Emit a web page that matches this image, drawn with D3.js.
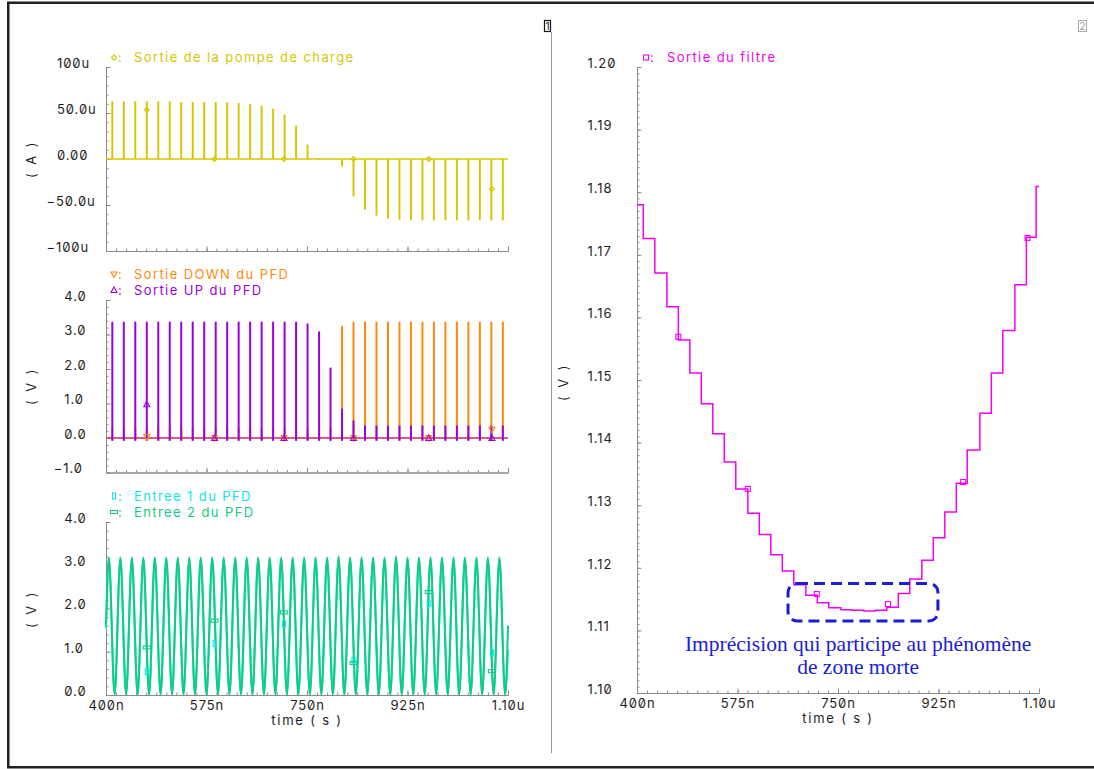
<!DOCTYPE html>
<html><head><meta charset="utf-8">
<script src="https://cdn.jsdelivr.net/npm/d3@7"></script>
<style>
body{margin:0;background:#fff}
svg text{font-family:Inter,"DejaVu Sans",sans-serif;font-feature-settings:"zero" 1}
</style></head><body><svg id="c" width="1094" height="769"></svg>
<script>
// ---------------- DATA ----------------
const xTickValues = [400, 575, 750, 925, 1100];
const xTickLabels = ["400n", "575n", "750n", "925n", "1.10u"];

// Panel 1 : charge pump output current (uA), one spike per PFD cycle
const pulseTimes = [411,431,451,471,491,511,531,551,571,591,611,631,651,671,691,711,731,751,771,791,811,831,851,871,891,911,931,951,971,991,1011,1031,1051,1071,1091];
const cpPeaks = [62.7,62.7,62.7,62.7,62.7,62.7,62.0,62.0,62.0,62.0,61.6,60.9,59.8,58.0,54.7,48.2,36.2,15.6,1.1,0,-8.0,-40.6,-55.1,-61.6,-64.9,-66.0,-66.7,-66.7,-66.7,-66.7,-66.7,-66.7,-66.7,-66.7,-66.7];
const cpMarkT = [471, 589, 710, 831, 962, 1072];
const cpMarkV = [53.5, 0, 0, 0, 0, -32.6];
const y1TickValues = [100, 50, 0, -50, -100];
const y1TickLabels = ["100u", "50.0u", "0.00", "-50.0u", "-100u"];

// Panel 2 : PFD outputs (V)
const upPeaks = [3.37,3.37,3.37,3.37,3.37,3.37,3.37,3.37,3.37,3.37,3.37,3.37,3.37,3.37,3.37,3.37,3.37,3.32,3.09,2.04,0.85,0.51,0.36,0.36,0.36,0.36,0.36,0.36,0.36,0.36,0.36,0.36,0.36,0.36,0.36];
const downPeaks = [0.3,0.3,0.3,0.3,0.3,0.3,0.3,0.3,0.3,0.3,0.3,0.3,0.3,0.3,0.3,0.3,0.3,0.3,0.3,0.3,3.24,3.37,3.37,3.37,3.37,3.37,3.37,3.37,3.37,3.37,3.37,3.37,3.37,3.37,3.37];
const upMarkV = [0.98, 0, 0, 0, 0, 0];
const downMarkV = [0.03, 0, 0, 0, 0, 0.24];
const y2TickValues = [4, 3, 2, 1, 0, -1];
const y2TickLabels = ["4.0", "3.0", "2.0", "1.0", "0.0", "-1.0"];

// Panel 3 : PFD inputs (V), extrema of each waveform
const inTimes = [400,405,415,425,435,445,455,465,475,485,495,505,515,525,535,545,555,565,575,585,595,605,615,625,635,645,655,665,675,685,695,705,715,725,735,745,755,765,775,785,795,805,815,825,835,845,855,865,875,885,895,905,915,925,935,945,955,965,975,985,995,1005,1015,1025,1035,1045,1055,1065,1075,1085,1095,1100];
const in1Values = [1.55,3.15,0.03,3.15,0.03,3.15,0.03,3.15,0.03,3.15,0.03,3.15,0.03,3.15,0.03,3.15,0.03,3.15,0.03,3.15,0.03,3.15,0.03,3.15,0.03,3.15,0.03,3.15,0.03,3.15,0.03,3.15,0.03,3.15,0.03,3.15,0.03,3.15,0.03,3.15,0.03,3.15,0.03,3.15,0.03,3.15,0.03,3.15,0.03,3.15,0.03,3.15,0.03,3.15,0.03,3.15,0.03,3.15,0.03,3.15,0.03,3.15,0.03,3.15,0.03,3.15,0.03,3.15,0.03,3.15,0.03,1.05];
const in2Values = [1.6,3.18,0,3.18,0,3.18,0,3.18,0,3.18,0,3.18,0,3.18,0,3.18,0,3.18,0,3.18,0,3.18,0,3.18,0,3.18,0,3.18,0,3.18,0,3.18,0,3.18,0,3.18,0,3.18,0,3.18,0,3.2,0,3.18,0,3.18,0,3.18,0,3.18,0,3.2,0,3.18,0,3.18,0,3.18,0,3.18,0,3.18,0,3.18,0,3.18,0,3.18,0,3.18,0,1.6];
const in1MarkV = [0.54, 1.19, 1.64, 0.8, 2.11, 0.98];
const in2MarkV = [1.1, 1.72, 1.91, 0.74, 2.38, 0.55];
const y3TickValues = [4, 3, 2, 1, 0];
const y3TickLabels = ["4.0", "3.0", "2.0", "1.0", "0.0"];

// Right panel : loop filter output (V), staircase
const filterStart = 1.1780;
const stepTimes = [411,431,452,472,492,512,532,552,572,593,613,633,653,673,694,714,734,755,775,795,815,835,855,875,896,916,936,956,975,997,1017,1037,1058,1078,1095];
const stepLevels = [1.1726,1.1671,1.1617,1.1564,1.1511,1.1462,1.1414,1.1369,1.1326,1.1287,1.1253,1.1221,1.1195,1.1173,1.1156,1.1144,1.1136,1.1133,1.1132,1.1131,1.1132,1.1137,1.1159,1.1182,1.1212,1.1248,1.1289,1.1335,1.1388,1.1447,1.1511,1.1579,1.1652,1.1728,1.1809];
const filterMarkT = [472, 593, 713, 837, 968, 1080];
const filterMarkV = [1.1569, 1.1326, 1.1158, 1.1142, 1.1337, 1.1727];
const yRTickValues = [1.20,1.19,1.18,1.17,1.16,1.15,1.14,1.13,1.12,1.11,1.10];
const yRTickLabels = ["1.20","1.19","1.18","1.17","1.16","1.15","1.14","1.13","1.12","1.11","1.10"];

// Annotation (dead zone)
const boxT = [663, 924];
const boxV = [1.1175, 1.1115];
const noteT = 785;
const noteLines = ["Imprécision qui participe au phénomène", "de zone morte"];
const noteV = [1.1067, 1.1030];

// ---------------- DRAW ----------------
const C = {yellow:"#d6c800", orange:"#ff8a0a", purple:"#9a00e0", cyan:"#10e6e6", green:"#12cc82", magenta:"#f400f4", axis:"#8a8a8a", text:"#1e1e1e", blue:"#1c1cd6"};
const FS = 13;
const svg = d3.select("#c");

// frame
svg.append("rect").attr("x",8.25).attr("y",2.75).attr("width",1200).attr("height",764.5)
  .attr("fill","none").attr("stroke","#231f20").attr("stroke-width",2.5);
svg.append("line").attr("x1",551.5).attr("x2",551.5).attr("y1",32).attr("y2",753).attr("stroke","#9a9a9a").attr("stroke-width",1);
// window boxes
svg.append("rect").attr("x",544.5).attr("y",20.5).attr("width",6).attr("height",11).attr("fill","#fff").attr("stroke","#111").attr("stroke-width",1.2);
svg.append("text").attr("x",547.5).attr("y",30).attr("text-anchor","middle").attr("font-size",10).attr("fill","#111").text("1");
svg.append("rect").attr("x",1078.5).attr("y",20.5).attr("width",8).attr("height",11).attr("fill","#fff").attr("stroke","#aaa").attr("stroke-width",1);
svg.append("text").attr("x",1082.5).attr("y",30).attr("text-anchor","middle").attr("font-size",10).attr("fill","#999").text("2");

const xL = d3.scaleLinear().domain([400,1100]).range([106,508]);
const xR = d3.scaleLinear().domain([400,1100]).range([637,1039]);
const y1 = d3.scaleLinear().domain([-100,100]).range([251,67]);
const y2 = d3.scaleLinear().domain([-1,4]).range([472.5,300]);
const y3 = d3.scaleLinear().domain([0,4]).range([695,522]);
const yR = d3.scaleLinear().domain([1.10,1.20]).range([693,67]);

const xMinor = d3.range(0,41).map(i => 400 + i*17.5);

function styleAxis(g){
  g.selectAll(".domain").attr("stroke",C.axis).attr("stroke-width",1);
  g.selectAll(".tick line").attr("stroke",C.axis).attr("stroke-width",1);
}
function axes(x, y, yMajor, yMinor, yLabels, labelX, minusW, showX){
  const x0 = x.range()[0], yb = y.range()[0];
  const gy = svg.append("g").attr("transform",`translate(${x0},0)`);
  gy.append("g").call(d3.axisRight(y).tickValues(yMinor).tickSize(2.5).tickSizeOuter(0).tickFormat("")).call(styleAxis);
  gy.append("g").call(d3.axisRight(y).tickValues(yMajor).tickSize(4.5).tickSizeOuter(0).tickFormat("")).call(styleAxis);
  const gx = svg.append("g").attr("transform",`translate(0,${yb})`);
  gx.append("g").call(d3.axisTop(x).tickValues(xMinor).tickSize(2.5).tickSizeOuter(0).tickFormat("")).call(styleAxis);
  gx.append("g").call(d3.axisTop(x).tickValues(xTickValues).tickSize(4.5).tickSizeOuter(0).tickFormat("")).call(styleAxis);
  const gl = svg.append("g").attr("transform",`translate(${labelX},0)`)
    .call(d3.axisLeft(y).tickValues(yMajor).tickSize(0).tickFormat((d,i)=>yLabels[i].replace("-","\u2212")));
  gl.select(".domain").remove();
  gl.attr("font-family",null).attr("font-size",null);
  gl.selectAll("text").attr("text-anchor","start").attr("dy","0.02em")
    .attr("x",(d,i)=> yLabels[i].startsWith("-") ? -minusW : 0)
    .attr("font-size",FS).attr("letter-spacing","0.9px").attr("fill",C.text);
  if(showX){
    const gxl = svg.append("g").attr("transform",`translate(0,${yb})`)
      .call(d3.axisBottom(x).tickValues(xTickValues).tickSize(0).tickFormat((d,i)=>xTickLabels[i]));
    gxl.select(".domain").remove();
    gxl.attr("font-family",null).attr("font-size",null);
    gxl.selectAll("text").attr("y",15).attr("dy",0).attr("font-size",FS).attr("letter-spacing","0.9px").attr("fill",C.text);
    svg.append("text").attr("x",(x.range()[0]+x.range()[1])/2).attr("y",yb+30)
      .attr("text-anchor","middle").attr("font-size",FS).attr("letter-spacing","1.8px").attr("fill",C.text).text("time ( s )");
  }
}
function yTitle(x, yc, txt){
  svg.append("text").attr("transform",`translate(${x},${yc}) rotate(-90)`).attr("text-anchor","middle")
    .attr("dy","0.35em").attr("font-size",FS).attr("letter-spacing","2.4px").attr("fill",C.text).text(txt);
}
function marker(g, type, cx, cy, color){
  if(type==="diamond") g.append("path").attr("d",`M${cx},${cy-2.5}L${cx+2.5},${cy}L${cx},${cy+2.5}L${cx-2.5},${cy}Z`).attr("fill","none").attr("stroke",color).attr("stroke-width",1.1);
  if(type==="up") g.append("path").attr("d",`M${cx},${cy-3}L${cx+3},${cy+2.5}L${cx-3},${cy+2.5}Z`).attr("fill","none").attr("stroke",color).attr("stroke-width",1.1);
  if(type==="down") g.append("path").attr("d",`M${cx-3},${cy-2.5}L${cx+3},${cy-2.5}L${cx},${cy+3}Z`).attr("fill","none").attr("stroke",color).attr("stroke-width",1.1);
  if(type==="vrect") g.append("rect").attr("x",cx-1.5).attr("y",cy-3).attr("width",3).attr("height",6).attr("fill","none").attr("stroke",color).attr("stroke-width",1.1);
  if(type==="hrect") g.append("rect").attr("x",cx-3.5).attr("y",cy-1.5).attr("width",7).attr("height",3).attr("fill","none").attr("stroke",color).attr("stroke-width",1.1);
  if(type==="square") g.append("rect").attr("x",cx-2.5).attr("y",cy-2.5).attr("width",5).attr("height",5).attr("fill","none").attr("stroke",color).attr("stroke-width",1.1);
}
function legend(mx, tx, y, type, color, label){
  marker(svg, type, mx, y-4.5, color);
  svg.append("text").attr("x",mx+4).attr("y",y).attr("font-size",FS).attr("fill",color).text(":");
  svg.append("text").attr("x",tx).attr("y",y).attr("font-size",FS).attr("letter-spacing","1.4px").attr("fill",color).text(label);
}

// ---- Panel 1
axes(xL, y1, y1TickValues, d3.range(-100,101,10), y1TickLabels, 57, 10.5, false);
yTitle(31, 159, "( A )");
legend(114, 134, 62, "diamond", C.yellow, "Sortie de la pompe de charge");
const g1 = svg.append("g");
g1.append("line").attr("x1",xL(400)).attr("x2",xL(1100)).attr("y1",y1(0)).attr("y2",y1(0)).attr("stroke",C.yellow).attr("stroke-width",1.5);
g1.selectAll("line.p").data(pulseTimes).join("line").attr("class","p")
  .attr("x1",d=>xL(d)).attr("x2",d=>xL(d)).attr("y1",y1(0)).attr("y2",(d,i)=>y1(cpPeaks[i]))
  .attr("stroke",C.yellow).attr("stroke-width",2);
cpMarkT.forEach((t,i)=>marker(g1,"diamond",xL(t),y1(cpMarkV[i]),C.yellow));

// ---- Panel 2
axes(xL, y2, y2TickValues, d3.range(-1,4.01,0.2), y2TickLabels, 64.3, 10.5, false);
yTitle(31, 386, "( V )");
legend(114, 134, 279, "down", C.orange, "Sortie DOWN du PFD");
legend(114, 134, 294.5, "up", C.purple, "Sortie UP du PFD");
const g2 = svg.append("g");
g2.append("line").attr("x1",xL(400)).attr("x2",xL(1100)).attr("y1",y2(0)).attr("y2",y2(0)).attr("stroke",C.orange).attr("stroke-width",1.5);
g2.selectAll("line.d").data(pulseTimes).join("line").attr("class","d")
  .attr("x1",d=>xL(d)).attr("x2",d=>xL(d)).attr("y1",y2(-0.08)).attr("y2",(d,i)=>y2(downPeaks[i]))
  .attr("stroke",C.orange).attr("stroke-width",2);
g2.append("line").attr("x1",xL(400)).attr("x2",xL(1100)).attr("y1",y2(0)).attr("y2",y2(0)).attr("stroke",C.purple).attr("stroke-width",1.2).attr("opacity",0.85);
g2.selectAll("line.u").data(pulseTimes).join("line").attr("class","u")
  .attr("x1",d=>xL(d)).attr("x2",d=>xL(d)).attr("y1",y2(-0.08)).attr("y2",(d,i)=>y2(upPeaks[i]))
  .attr("stroke",C.purple).attr("stroke-width",2);
cpMarkT.forEach((t,i)=>marker(g2,"down",xL(t),y2(downMarkV[i]),C.orange));
cpMarkT.forEach((t,i)=>marker(g2,"up",xL(t),y2(upMarkV[i]),C.purple));

// ---- Panel 3
axes(xL, y3, y3TickValues, d3.range(0,4.01,0.2), y3TickLabels, 64.3, 10.5, true);
yTitle(31, 609, "( V )");
legend(114, 134, 500.5, "vrect", C.cyan, "Entree 1 du PFD");
legend(114, 134, 516.5, "hrect", C.green, "Entree 2 du PFD");
const g3 = svg.append("g");
const wave = vals => d3.line().x((d,i)=>xL(inTimes[i])).y((d,i)=>y3(vals[i])).curve(d3.curveMonotoneX)(inTimes);
g3.append("path").attr("d",wave(in1Values)).attr("fill","none").attr("stroke",C.cyan).attr("stroke-width",2);
g3.append("path").attr("d",wave(in2Values)).attr("fill","none").attr("stroke",C.green).attr("stroke-width",2);
cpMarkT.forEach((t,i)=>marker(g3,"vrect",xL(t),y3(in1MarkV[i]),C.cyan));
cpMarkT.forEach((t,i)=>marker(g3,"hrect",xL(t),y3(in2MarkV[i]),C.green));

// ---- Right panel
axes(xR, yR, yRTickValues, d3.range(0,101).map(i=>+(1.10+i*0.001).toFixed(3)), yRTickLabels, 587.5, 10.5, true);
yTitle(563, 382, "( V )");
legend(646, 667, 62, "square", C.magenta, "Sortie du filtre");
const fPts = [[400, filterStart]].concat(stepTimes.map((t,i)=>[t, stepLevels[i]])).concat([[1100, stepLevels[stepLevels.length-1]]]);
svg.append("path").attr("d", d3.line().x(d=>xR(d[0])).y(d=>yR(d[1])).curve(d3.curveStepAfter)(fPts))
  .attr("fill","none").attr("stroke",C.magenta).attr("stroke-width",1.5);
filterMarkT.forEach((t,i)=>marker(svg,"square",xR(t),yR(filterMarkV[i]),C.magenta));

// annotation
svg.append("rect").attr("x",xR(boxT[0])).attr("y",yR(boxV[0])).attr("width",xR(boxT[1])-xR(boxT[0])).attr("height",yR(boxV[1])-yR(boxV[0]))
  .attr("rx",9).attr("fill","none").attr("stroke",C.blue).attr("stroke-width",3).attr("stroke-dasharray","11,6");
noteLines.forEach((s,i)=>svg.append("text").attr("x",xR(noteT)).attr("y",yR(noteV[i])).attr("text-anchor","middle")
  .style("font-family","'Liberation Serif','Times New Roman',serif").style("font-feature-settings","normal")
  .attr("font-size",21.5).attr("fill",C.blue).text(s));
</script></body></html>
